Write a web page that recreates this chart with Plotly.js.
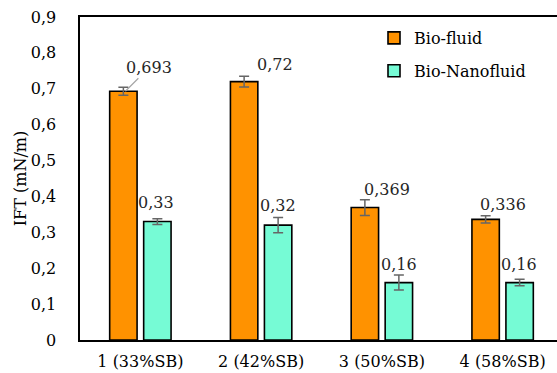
<!DOCTYPE html>
<html>
<head>
<meta charset="utf-8">
<script src="https://cdn.plot.ly/plotly-3.0.1.min.js"></script>
<style>
  html, body { margin: 0; padding: 0; overflow: hidden; background: #fff; }
  #chart { width: 563px; height: 373px; }
</style>
</head>
<body>
<div id="chart"></div>
<script>
// IFT of bio-fluid vs bio-nanofluid at four surfactant blend ratios
const categories = ['1 (33%SB)', '2 (42%SB)', '3 (50%SB)', '4 (58%SB)'];
const bioFluid = [0.693, 0.72, 0.369, 0.336];
const bioFluidErr = [0.011, 0.015, 0.022, 0.010];
const bioNano = [0.33, 0.32, 0.16, 0.16];
const bioNanoErr = [0.008, 0.021, 0.021, 0.009];
const yTicks = [0, 0.1, 0.2, 0.3, 0.4, 0.5, 0.6, 0.7, 0.8, 0.9];

const FONT = 'DejaVu Serif';
const FS = 16;
const BAR_SHIFT = 17; // px from category centre to each bar centre

// label placement (px, relative to bar centre / bar top)
const fluidLabelOffset = [[23, 23], [31, 17], [22, 18], [17, 15]];
const nanoLabelOffset = [[-1, 19], [0, 20], [0, 18], [-1, 18]];

const fmt = v => String(v).replace('.', ',');

const errStyle = { type: 'data', visible: true, color: '#666666', thickness: 1.5, width: 5 };

const traces = [
  {
    type: 'bar', name: 'Bio-fluid', x: categories, y: bioFluid, legendgroup: 'a',
    marker: { color: '#FF9200', line: { color: '#000', width: 1.6 } },
    error_y: Object.assign({ array: bioFluidErr }, errStyle),
    hoverinfo: 'skip'
  },
  {
    type: 'bar', name: 'Bio-Nanofluid', x: categories, y: bioNano, legendgroup: 'b',
    marker: { color: '#76FBD5', line: { color: '#000', width: 1.6 } },
    error_y: Object.assign({ array: bioNanoErr }, errStyle),
    hoverinfo: 'skip'
  }
];

const annotations = [];
bioFluid.forEach((v, i) => {
  const off = fluidLabelOffset[i];
  if (i === 0) {
    // first label sits off to the side with a thin leader line
    annotations.push({
      x: categories[i], y: v, xref: 'x', yref: 'y', text: fmt(v),
      xshift: -BAR_SHIFT + 2, showarrow: true, arrowhead: 0, arrowwidth: 1.2,
      arrowcolor: '#A6A6A6', ax: 24, ay: -24, standoff: 0,
      font: { family: FONT, size: FS, color: '#262626' }
    });
  } else {
    annotations.push({
      x: categories[i], y: v, xref: 'x', yref: 'y', text: fmt(v), showarrow: false,
      xshift: -BAR_SHIFT + off[0], yshift: off[1],
      font: { family: FONT, size: FS, color: '#262626' }
    });
  }
});
bioNano.forEach((v, i) => {
  const off = nanoLabelOffset[i];
  annotations.push({
    x: categories[i], y: v, xref: 'x', yref: 'y', text: fmt(v), showarrow: false,
    xshift: BAR_SHIFT + off[0], yshift: off[1],
    font: { family: FONT, size: FS, color: '#262626' }
  });
});

const layout = {
  width: 563, height: 373,
  margin: { l: 80, r: 0, t: 17, b: 33 },
  paper_bgcolor: '#fff', plot_bgcolor: '#fff',
  separators: ',.',
  font: { family: FONT, size: FS, color: '#000' },
  barmode: 'group', bargap: 0.437, bargroupgap: 0.194,
  showlegend: true,
  legend: {
    x: (374 - 80) / 483, y: 1 - (21 - 17) / 323, xanchor: 'left', yanchor: 'top',
    bgcolor: 'rgba(0,0,0,0)', font: { family: FONT, size: FS, color: '#000' },
    tracegroupgap: 9, traceorder: 'grouped'
  },
  xaxis: {
    type: 'category', showline: true, linecolor: '#000', linewidth: 1.6, mirror: true,
    showgrid: false, zeroline: false, ticks: '', ticklabelstandoff: 6,
    tickfont: { family: FONT, size: FS, color: '#000' }
  },
  yaxis: {
    range: [0, 0.9], tickvals: yTicks, ticktext: yTicks.map(fmt),
    showline: true, linecolor: '#000', linewidth: 1.6, mirror: true,
    showgrid: false, zeroline: false, ticks: '', ticklabelstandoff: 19,
    tickfont: { family: FONT, size: FS, color: '#000' },
    title: { text: 'IFT (mN/m)', font: { family: FONT, size: FS, color: '#000' }, standoff: 0 }
  },
  annotations: annotations
};

Plotly.newPlot('chart', traces, layout, { staticPlot: true, displayModeBar: false });
</script>
</body>
</html>
